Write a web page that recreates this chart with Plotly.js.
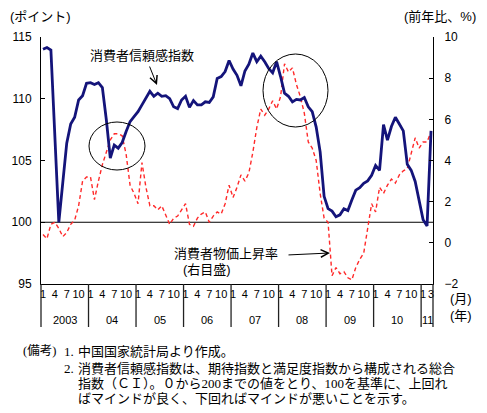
<!DOCTYPE html>
<html>
<head>
<meta charset="utf-8">
<script src="https://cdn.plot.ly/plotly-3.0.1.min.js"></script>
<style>html,body{margin:0;padding:0;background:#fff}</style>
</head>
<body>
<div id="chart" style="width:487px;height:413px"></div>
<script>
// Year labels under the axis (2003 .. 2011)
const years = ['2003', '04', '05', '06', '07', '08', '09', '10', '11'];
// Months that carry a tick label in a full year, and in the final (partial) year
const monthTicks = [1, 4, 7, 10];
const lastYearMonthTicks = [1, 3];

// China consumer confidence index, monthly, Jan 2003 - Mar 2011 (points, left axis)
const confidence = [
  114.0, 114.15, 113.95, 107.5, 100.0, 103.2, 106.4, 107.95, 108.5, 109.9, 110.25, 111.25,
  111.3, 111.15, 111.3, 110.9, 108.3, 105.2, 106.25, 106.0, 106.45, 107.35, 108.15, 108.55,
  108.95, 109.5, 110.0, 110.6, 110.2, 110.45, 110.2, 110.25, 110.0, 109.35, 109.2, 109.9,
  110.2, 109.3, 109.85, 109.5, 109.5, 109.75, 109.7, 110.15, 111.65, 111.8, 112.2, 113.1,
  112.4, 111.9, 111.05, 112.25, 112.8, 113.7, 113.0, 113.45, 113.0, 112.45, 112.1, 113.0,
  111.8, 110.45, 110.2, 109.75, 109.95, 109.9, 110.1, 109.35, 108.95, 107.7, 105.7, 102.1,
  101.1, 100.9, 100.45, 100.6, 101.1, 100.95, 101.8, 102.6, 102.8, 103.15, 103.35, 103.8,
  104.6, 104.2, 107.9, 106.65, 107.75, 108.5, 107.95, 107.4, 104.7, 104.2, 103.3, 101.6,
  100.2, 99.7, 107.4
];

// Consumer price index, year-on-year change (%, right axis)
const cpi = [
  0.4, 0.2, 0.9, 1.0, 0.7, 0.3, 0.5, 0.9, 1.1, 1.8, 3.0, 3.2,
  3.2, 2.1, 3.0, 3.8, 4.4, 5.0, 5.3, 5.3, 5.2, 4.3, 2.8, 2.4,
  1.9, 3.9, 2.7, 1.8, 1.8, 1.6, 1.8, 1.3, 0.9, 1.2, 1.3, 1.6,
  1.9, 0.9, 0.8, 1.2, 1.4, 1.5, 1.0, 1.3, 1.5, 1.4, 1.9, 2.8,
  2.2, 2.7, 3.3, 3.0, 3.4, 4.4, 5.6, 6.5, 6.2, 6.5, 6.9, 6.5,
  7.1, 8.7, 8.3, 8.5, 7.7, 7.1, 6.3, 4.9, 4.6, 4.0, 2.4, 1.2,
  1.0, -1.6, -1.2, -1.5, -1.4, -1.7, -1.8, -1.2, -0.8, -0.5, 0.6, 1.9,
  1.5, 2.7, 2.4, 2.8, 3.1, 2.9, 3.3, 3.5, 3.6, 4.4, 5.1, 4.6,
  4.9, 4.9, 5.4
];

const notes = [
  '中国国家統計局より作成。',
  '消費者信頼感指数は、期待指数と満足度指数から構成される総合',
  '指数（ＣＩ）。０から200までの値をとり、100を基準に、上回れ',
  'ばマインドが良く、下回ればマインドが悪いことを示す。'
];

// ---- geometry of the page ----
const W = 487, H = 413;
const PL = 41, PR = 433, PT = 37, PB = 284;   // plot box in pixels
const px = x => (x - PL) / (PR - PL);
const py = y => (PB - y) / (PB - PT);

const n = confidence.length;
const idx = confidence.map((_, i) => i);
const xRange = [-0.5, n - 0.5];
const paperX = v => (v - xRange[0]) / (xRange[1] - xRange[0]);

// month tick labels
const tickvals = [], ticktext = [];
idx.forEach(i => {
  const y = Math.floor(i / 12), m = i % 12 + 1;
  const list = (y === years.length - 1) ? lastYearMonthTicks : monthTicks;
  if (list.includes(m)) { tickvals.push(i); ticktext.push(String(m)); }
});

const SANS = '"Liberation Sans", "Noto Sans CJK JP", sans-serif';
const SERIF = '"Liberation Serif", "Noto Sans CJK JP", serif';

const traces = [
  {
    x: idx, y: cpi, yaxis: 'y', type: 'scatter', mode: 'lines',
    line: {color: '#ff2a2a', width: 1.4, dash: '4px,3px'},
    hoverinfo: 'skip'
  },
  {
    x: idx, y: confidence, yaxis: 'y2', type: 'scatter', mode: 'lines',
    line: {color: '#14147a', width: 2.8},
    hoverinfo: 'skip'
  }
];

// ---- shapes: reference line at 100, year separators, highlight circles ----
const shapes = [];
shapes.push({type: 'line', xref: 'paper', yref: 'y2', x0: 0, x1: 1, y0: 100, y1: 100,
  line: {color: '#000', width: 1}, layer: 'below'});

const sepBottom = py(327);
const boundaries = [];
for (let k = 0; k < years.length; k++) boundaries.push(Math.min(12 * k, n) - 0.5);
boundaries.push(n - 0.5);
boundaries.forEach(b => {
  shapes.push({type: 'line', xref: 'paper', yref: 'paper',
    x0: paperX(b), x1: paperX(b), y0: 0, y1: sepBottom,
    line: {color: '#222', width: 1.3}});
});

[[89, 122, 145, 170], [263, 54, 328, 127]].forEach(c => {
  shapes.push({type: 'circle', xref: 'paper', yref: 'paper',
    x0: px(c[0]), x1: px(c[2]), y0: py(c[3]), y1: py(c[1]),
    line: {color: '#000', width: 1}});
});

// ---- annotations ----
const ann = [];
function text(t, x, y, opt) {
  opt = opt || {};
  ann.push({text: t, xref: 'paper', yref: 'paper', x: px(x), y: py(y),
    xanchor: opt.xa || 'center', yanchor: 'middle', showarrow: false,
    font: {family: opt.family || SANS, size: opt.size || 13, color: '#000'}});
}
text('(ポイント)', 8, 17, {xa: 'left'});
text('(前年比、%)', 478, 17, {xa: 'right'});
text('消費者信頼感指数', 141.5, 55);
text('消費者物価上昇率', 225.5, 253);
text('(右目盛)', 207, 269);
text('(月)', 448, 298, {xa: 'left'});
text('(年)', 448, 315, {xa: 'left'});

// year labels centred in each year's cell
years.forEach((yl, k) => {
  const a = 12 * k - 0.5, b = Math.min(12 * k + 12, n) - 0.5;
  ann.push({text: yl, xref: 'paper', yref: 'paper', x: (paperX(a) + paperX(b)) / 2, y: py(320),
    xanchor: 'center', yanchor: 'middle', showarrow: false,
    font: {family: SANS, size: 11, color: '#000'}});
});

// pointer arrows
function arrow(hx, hy, tx, ty) {
  ann.push({text: '', xref: 'paper', yref: 'paper', x: px(hx), y: py(hy),
    ax: tx - hx, ay: ty - hy, showarrow: true, arrowhead: 5, arrowsize: 1.5,
    arrowwidth: 1, arrowcolor: '#000'});
}
arrow(157, 85, 149, 65);
arrow(330, 253, 287, 255);

// notes
text('(備考)', 58, 351, {xa: 'right', family: SERIF, size: 12.5});
text('1.', 62, 351, {xa: 'left', family: SERIF});
text('2.', 62, 368, {xa: 'left', family: SERIF});
const noteY = [351, 368, 383, 398];
notes.forEach((t, i) => text(t, 76, noteY[i], {xa: 'left', family: SERIF}));

const layout = {
  width: W, height: H,
  margin: {l: PL, r: W - PR, t: PT, b: H - PB, pad: 0},
  paper_bgcolor: '#fff', plot_bgcolor: '#fff',
  showlegend: false,
  font: {family: SANS, size: 12, color: '#000'},
  xaxis: {
    range: xRange, showgrid: false, zeroline: false,
    showline: true, linecolor: '#000', linewidth: 1,
    ticks: '', tickvals: tickvals, ticktext: ticktext, tickangle: 0,
    tickfont: {family: SANS, size: 11, color: '#000'}, fixedrange: true
  },
  yaxis: {
    side: 'right', range: [-2, 10], tickvals: [-2, 0, 2, 4, 6, 8, 10],
    showgrid: false, zeroline: false, showline: true, linecolor: '#000', linewidth: 1,
    ticks: 'inside', ticklen: 4, tickcolor: '#000', ticklabelstandoff: 8,
    tickfont: {family: SANS, size: 12, color: '#000'}, fixedrange: true
  },
  yaxis2: {
    side: 'left', overlaying: 'y', range: [95, 115], tickvals: [95, 100, 105, 110, 115],
    showgrid: false, zeroline: false, showline: true, linecolor: '#000', linewidth: 1,
    ticks: 'inside', ticklen: 4, tickcolor: '#000', ticklabelstandoff: 6,
    tickfont: {family: SANS, size: 12, color: '#000'}, fixedrange: true
  },
  shapes: shapes,
  annotations: ann
};

Plotly.newPlot('chart', traces, layout, {staticPlot: true, displayModeBar: false});
</script>
</body>
</html>
